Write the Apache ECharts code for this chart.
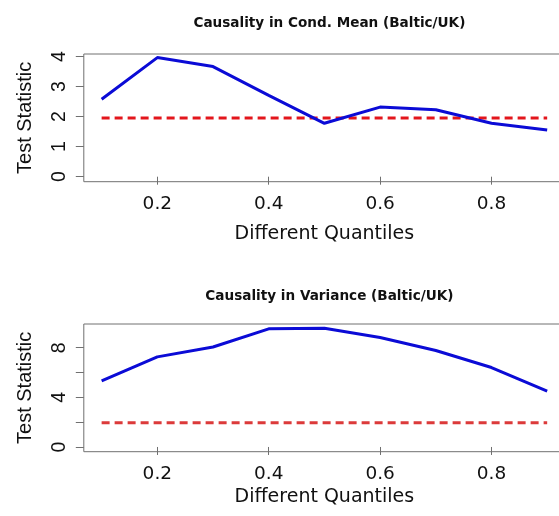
<!DOCTYPE html>
<html>
<head>
<meta charset="utf-8">
<script src="https://cdn.jsdelivr.net/npm/echarts@6/dist/echarts.min.js"></script>
<style>
  html, body { margin: 0; padding: 0; background: #ffffff; }
  #chart { width: 559px; height: 516px; }
</style>
</head>
<body>
<div id="chart"></div>
<script>
// Quantile grid and test statistics
const quantiles = [0.1, 0.2, 0.3, 0.4, 0.5, 0.6, 0.7, 0.8, 0.9];
const meanStat = [2.58, 3.97, 3.67, 2.71, 1.78, 2.32, 2.23, 1.78, 1.56];
const varianceStat = [5.32, 7.26, 8.06, 9.52, 9.57, 8.82, 7.77, 6.40, 4.51];
const criticalValue = 1.96;

// Tick labels
const xTicks = [0.2, 0.4, 0.6, 0.8];
const meanYTicks = [0, 1, 2, 3, 4];
const varYTicks = [0, 2, 4, 6, 8];
const varYLabels = [0, 4, 8];

const titles = ['Causality in Cond. Mean (Baltic/UK)', 'Causality in Variance (Baltic/UK)'];
const xName = 'Different Quantiles';
const yName = 'Test Statistic';

const pairs = (ys) => quantiles.map((q, i) => [q, ys[i]]);
const flat = () => quantiles.map(q => [q, criticalValue]);

const boxColor = '#707070';
const wideFont = 'DejaVu Sans';
const narrowFont = 'Liberation Sans';

function makeX(gridIndex, nameGap) {
  return {
    type: 'value', gridIndex, min: 0.068, max: 0.932,
    name: xName, nameLocation: 'middle', nameGap,
    nameTextStyle: { fontFamily: wideFont, fontSize: 19, color: '#111' },
    axisLine: { show: false },
    axisTick: { show: true, inside: false, length: 8, customValues: xTicks, lineStyle: { color: boxColor, width: 1 } },
    axisLabel: { customValues: xTicks, margin: 13, fontFamily: wideFont, fontSize: 18.5, color: '#111',
      formatter: v => String(v) },
    splitLine: { show: false }
  };
}

function makeY(gridIndex, min, max, ticks, labels) {
  return {
    type: 'value', gridIndex, min, max,
    name: yName, nameLocation: 'middle', nameGap: 48, nameRotate: 90,
    nameTextStyle: { fontFamily: narrowFont, fontSize: 20, color: '#111' },
    axisLine: { show: false },
    axisTick: { show: true, inside: false, length: 8, customValues: ticks, lineStyle: { color: boxColor, width: 1 } },
    axisLabel: { customValues: labels, rotate: 90, margin: 14, fontFamily: narrowFont, fontSize: 19.5, color: '#111' },
    splitLine: { show: false }
  };
}

const grids = [
  { left: 83.8, top: 54, width: 481.2, height: 127.7 },
  { left: 83.8, top: 324, width: 481.2, height: 127.7 }
].map(g => Object.assign({
  show: true, borderColor: boxColor, borderWidth: 1, backgroundColor: 'transparent',
  containLabel: false, outerBoundsMode: 'none'
}, g));

function statSeries(i, data) {
  return {
    type: 'line', xAxisIndex: i, yAxisIndex: i, data, showSymbol: false, silent: true,
    lineStyle: { color: '#0b0bd6', width: 3 }, z: 3
  };
}
function critSeries(i, color) {
  return {
    type: 'line', xAxisIndex: i, yAxisIndex: i, data: flat(), showSymbol: false, silent: true,
    lineStyle: { color, width: 3, type: [8, 5] }, z: 2
  };
}

const chart = echarts.init(document.getElementById('chart'), null, { renderer: 'canvas' });
chart.setOption({
  animation: false,
  backgroundColor: '#ffffff',
  title: [
    { text: titles[0], left: 324.4, top: 11, textAlign: 'center',
      textStyle: { fontFamily: wideFont, fontWeight: 'bold', fontSize: 13.6, color: '#111' } },
    { text: titles[1], left: 324.4, top: 284, textAlign: 'center',
      textStyle: { fontFamily: wideFont, fontWeight: 'bold', fontSize: 13.6, color: '#111' } }
  ],
  grid: grids,
  xAxis: [makeX(0, 43), makeX(1, 36)],
  yAxis: [
    makeY(0, -0.167, 4.09, meanYTicks, meanYTicks),
    makeY(1, -0.38, 9.91, varYTicks, varYLabels)
  ],
  series: [
    critSeries(0, '#e3161c'),
    statSeries(0, pairs(meanStat)),
    critSeries(1, '#dc3a3a'),
    statSeries(1, pairs(varianceStat))
  ]
});
</script>
</body>
</html>
